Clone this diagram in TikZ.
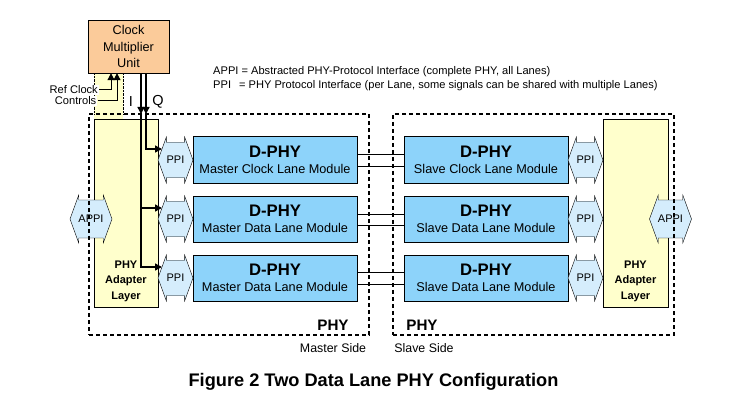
\documentclass[tikz,border=0pt]{standalone}
\usepackage{fontspec}
\setmainfont{Liberation Sans}
\usetikzlibrary{positioning,chains,scopes,shapes.arrows,arrows.meta}

\definecolor{cmuPeach}{HTML}{FBCB9A}
\definecolor{laneBlue}{HTML}{8DD3FA}
\definecolor{ppiBlue}{HTML}{D5EDFC}
\definecolor{adpYellow}{HTML}{FFFFCC}

\begin{document}
\begin{tikzpicture}[x=1pt,y=-1pt,
    dphy/.style={draw,line width=1pt,fill=laneBlue,rectangle,minimum width=164,minimum height=46,inner sep=0,outer sep=0,align=center,font=\fontsize{12.7}{16}\selectfont},
    ppi/.style={double arrow,draw,fill=ppiBlue,double arrow tip angle=140,double arrow head extend=5pt,minimum height=35,minimum width=46,inner xsep=0,inner ysep=13,outer sep=0,font=\fontsize{11}{13}\selectfont},
    appi/.style={ppi,minimum height=42,minimum width=48,inner ysep=15},
    adapter/.style={draw,fill=adpYellow,rectangle,inner sep=0,outer sep=0},
    adptxt/.style={align=center,font=\bfseries\fontsize{11}{15.5}\selectfont},
    phybox/.style={draw,dash pattern=on 4pt off 3pt,line width=1.2pt,rectangle,inner sep=0,outer sep=0},
    sig/.style={line width=1.3pt,-{Triangle[length=7pt,width=7pt]}},
    wire/.style={line width=1pt},
    small/.style={font=\fontsize{11.1}{13}\selectfont,inner sep=1pt}]
    \useasboundingbox (0,0) rectangle (748,404);

    % clock multiplier and the yellow strip below it
    \fill[adpYellow] (94,73) rectangle (123,119);
    \draw[densely dotted] (94,73) -- (94,114);
    \draw[densely dotted] (123,73) -- (123,114);
    \node[draw,fill=cmuPeach,minimum width=81,minimum height=53,inner sep=0,align=center,font=\fontsize{12.7}{16.5}\selectfont] (cmu) at (128.5,46.5) {Clock\\Multiplier\\Unit};

    % adapter layers
    \node[adapter,minimum width=64,minimum height=188] (lAdp) at (126,213) {};
    \node[adapter,minimum width=65,minimum height=188] (rAdp) at (635.5,213) {};
    \node[adptxt] (lAdpTxt) at ([yshift=26pt]lAdp.south) {PHY\\Adapter\\Layer};
    \node[adptxt] (rAdpTxt) at ([yshift=26pt]rAdp.south) {PHY\\Adapter\\Layer};
    \node[appi] (lAppi) at (91,219) {APPI};
    \node[appi] (rAppi) at (670.5,219) {APPI};

    % lane modules
    \begin{scope}[start chain=m going below,node distance=13pt]
        \node[dphy,on chain=m] (mClk) at (275,160) {{\bfseries\fontsize{16.7}{16}\selectfont D-PHY}\\Master Clock Lane Module};
        \node[dphy,on chain=m] (mDatA) {{\bfseries\fontsize{16.7}{16}\selectfont D-PHY}\\Master Data Lane Module};
        \node[dphy,on chain=m] (mDatB) {{\bfseries\fontsize{16.7}{16}\selectfont D-PHY}\\Master Data Lane Module};
    \end{scope}
    \node[dphy,right=47pt of mClk] (sClk) {{\bfseries\fontsize{16.7}{16}\selectfont D-PHY}\\Slave Clock Lane Module};
    \node[dphy,right=47pt of mDatA] (sDatA) {{\bfseries\fontsize{16.7}{16}\selectfont D-PHY}\\Slave Data Lane Module};
    \node[dphy,right=47pt of mDatB] (sDatB) {{\bfseries\fontsize{16.7}{16}\selectfont D-PHY}\\Slave Data Lane Module};

    \node[ppi,left=0pt of mClk] (mPpiC) {PPI};
    \node[ppi,left=0pt of mDatA] (mPpiA) {PPI};
    \node[ppi,left=0pt of mDatB] (mPpiB) {PPI};
    \node[ppi,right=0pt of sClk] (sPpiC) {PPI};
    \node[ppi,right=0pt of sDatA] (sPpiA) {PPI};
    \node[ppi,right=0pt of sDatB] (sPpiB) {PPI};

    % lane wires
    \draw[wire] ([yshift=6pt]mClk.east) -- ([yshift=6pt]sClk.west);
    \draw[wire] ([yshift=-6pt]mClk.east) -- ([yshift=-6pt]sClk.west);
    \draw[wire] ([yshift=5pt]mDatA.east) -- ([yshift=5pt]sDatA.west);
    \draw[wire] ([yshift=-6pt]mDatA.east) -- ([yshift=-6pt]sDatA.west);
    \draw[wire] ([yshift=6pt]mDatB.east) -- ([yshift=6pt]sDatB.west);
    \draw[wire] ([yshift=-6pt]mDatB.east) -- ([yshift=-6pt]sDatB.west);

    % master and slave sides
    \node[phybox,minimum width=280,minimum height=221] (master) at (229,224.5) {};
    \node[phybox,minimum width=281,minimum height=221] (slave) at (533.5,224.5) {};
    \node[font=\bfseries\fontsize{15.2}{17}\selectfont] (mPhy) at (333,325) {PHY};
    \node[font=\bfseries\fontsize{15.2}{17}\selectfont] (sPhy) at (422,325) {PHY};
    \node[font=\fontsize{12.4}{14}\selectfont] (mSide) at (333,348) {Master Side};
    \node[font=\fontsize{12.4}{14}\selectfont] (sSide) at (424,348) {Slave Side};

    % clock signals
    \coordinate (refTop) at ([xshift=-17.5pt]cmu.south);
    \coordinate (ctlTop) at ([xshift=-11.5pt]cmu.south);
    \coordinate (iTop) at ([xshift=12.5pt]cmu.south);
    \coordinate (qTop) at ([xshift=17.5pt]cmu.south);
    \node[small,fill=white,anchor=east] (refClk) at (99,90) {Ref Clock};
    \node[small,fill=white,anchor=east] (ctl) at (97.5,101) {Controls};
    \draw[sig,line width=1pt] (refClk.east) -| (refTop);
    \draw[sig,line width=1pt] (ctl.east) -| (ctlTop);
    \node[font=\fontsize{14.5}{16}\selectfont] (iLbl) at (131,102) {I};
    \node[font=\fontsize{14.5}{16}\selectfont] (qLbl) at (158,102) {Q};
    \draw[sig] (iTop) -- (iTop |- master.north);
    \draw[sig] (qTop) -- (qTop |- master.north);
    \draw[sig] (qTop |- master.north) |- ([xshift=4pt,yshift=11pt]mPpiC.west);
    \draw[sig] (iTop |- master.north) |- ([xshift=4pt,yshift=11pt]mPpiA.west);
    \draw[sig] (iTop |- master.north) |- ([xshift=4pt,yshift=11pt]mPpiB.west);

    % legend and caption
    \node[small,anchor=west] (lgdA) at (212,72) {APPI = Abstracted PHY-Protocol Interface (complete PHY, all Lanes)};
    \node[small,anchor=west] (lgdP) at (212,86) {PPI\hspace{8pt}= PHY Protocol Interface (per Lane, some signals can be shared with multiple Lanes)};
    \node[font=\bfseries\fontsize{18.2}{20}\selectfont] (caption) at (373.5,382) {Figure 2 Two Data Lane PHY Configuration};
\end{tikzpicture}
\end{document}
